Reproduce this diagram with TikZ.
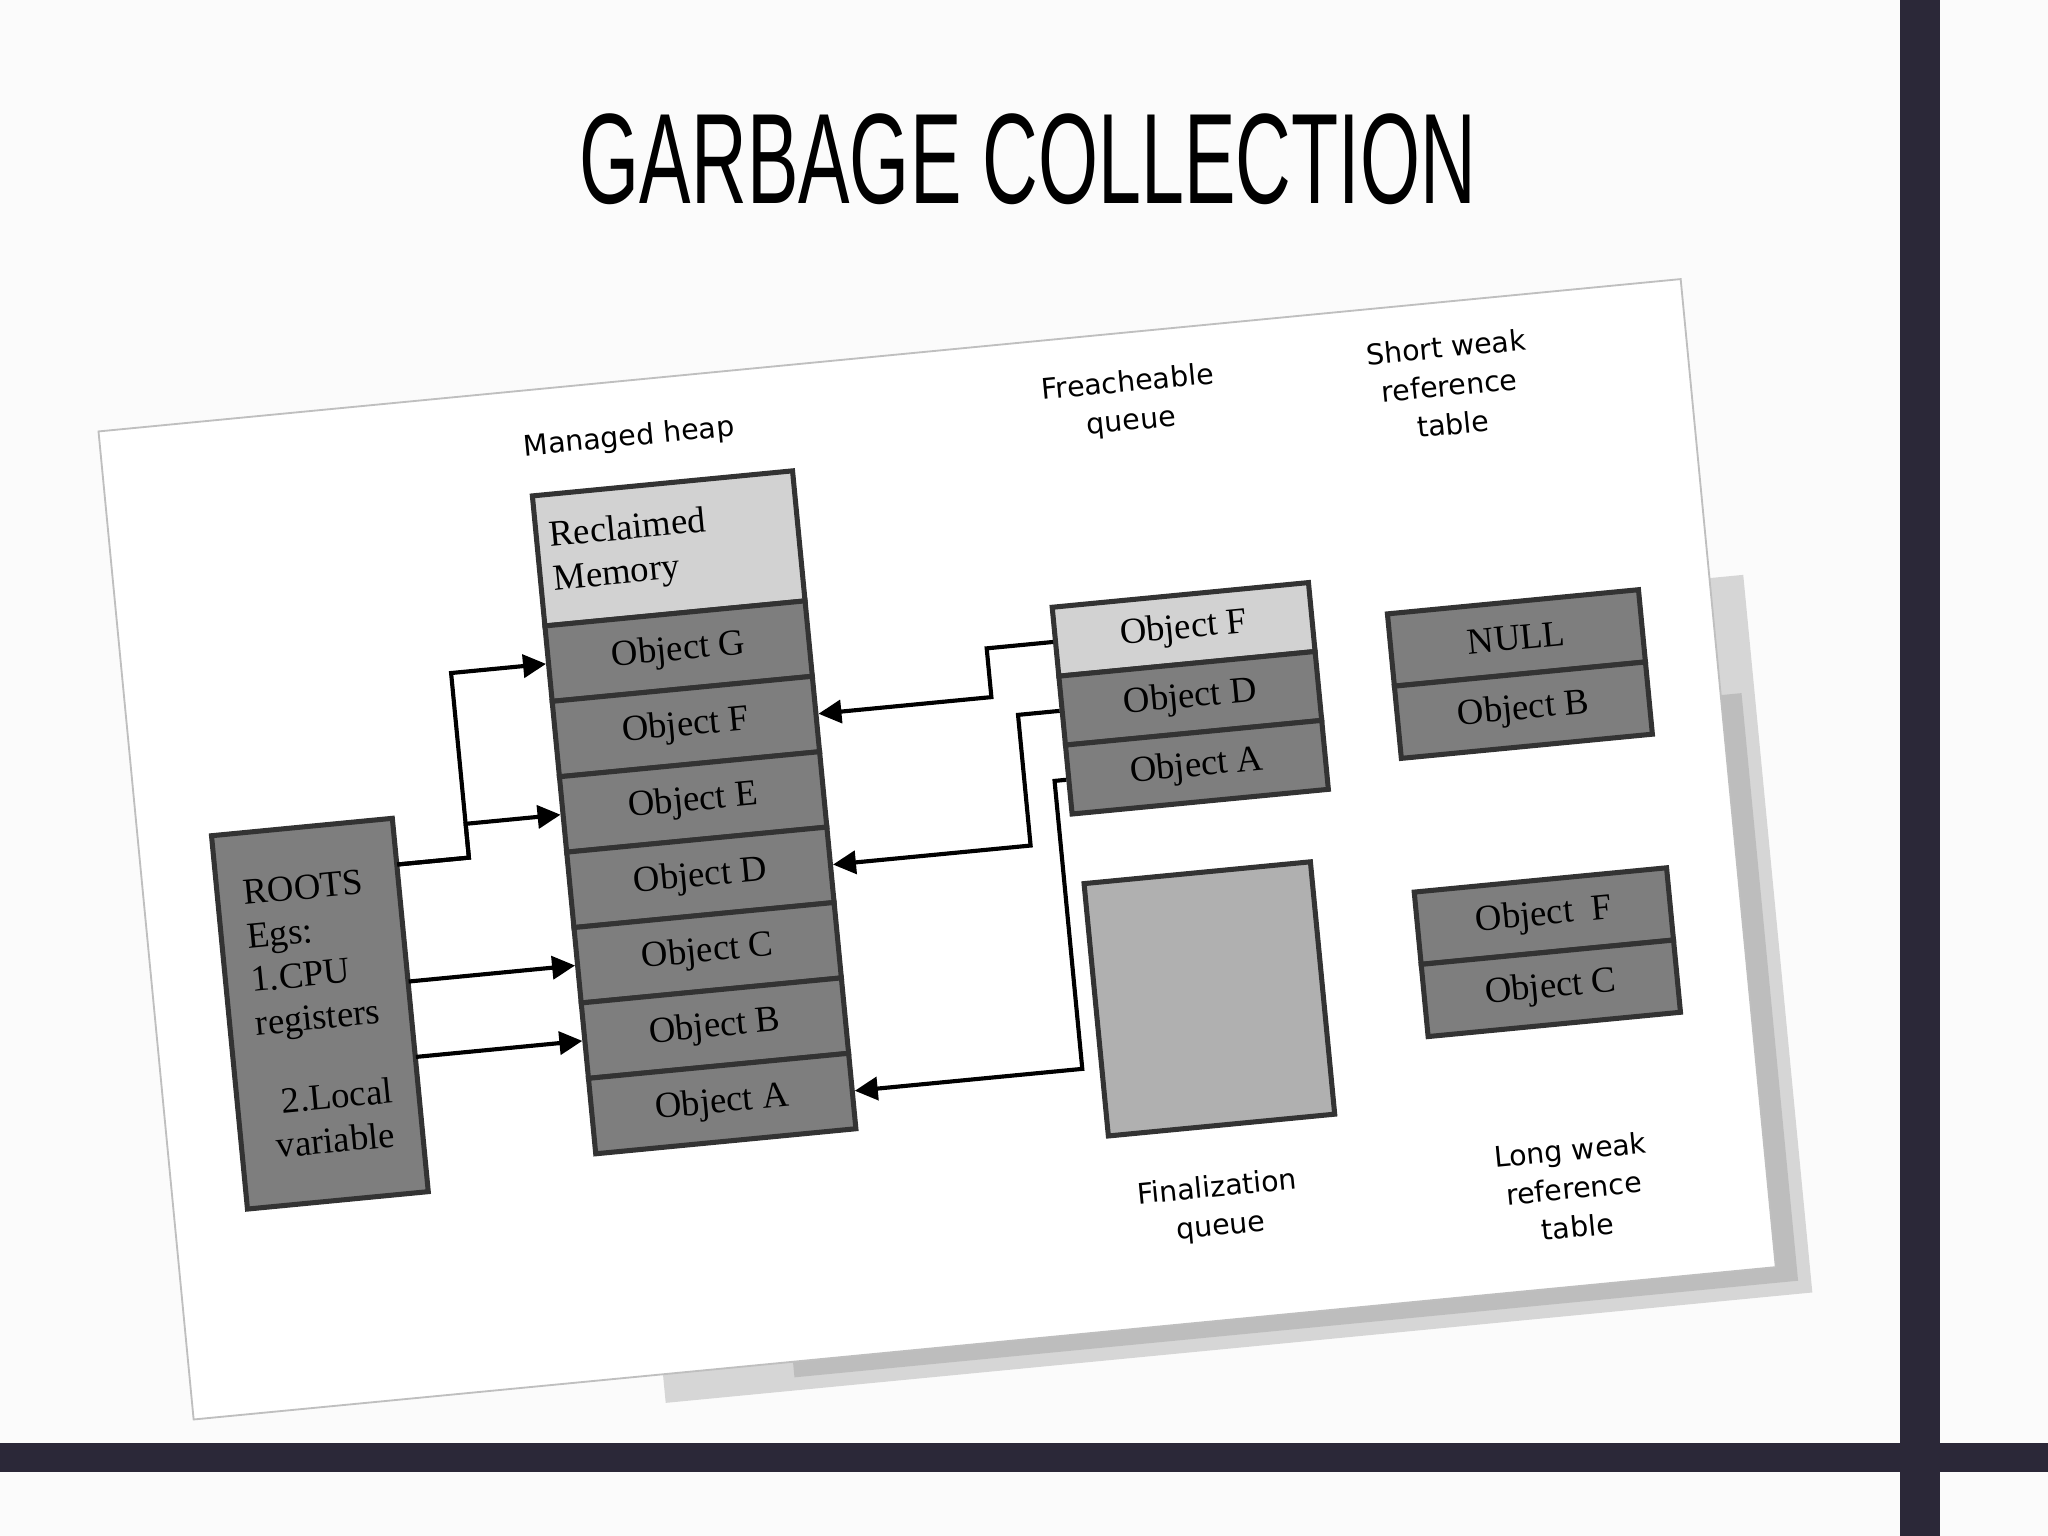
\documentclass[tikz,border=0pt]{standalone}
\usepackage{fontspec}
\setmainfont{Liberation Serif}
\newfontfamily\lblfont{DejaVu Sans}
\newfontfamily\ttlfont{Liberation Sans}
\usetikzlibrary{arrows.meta}
\definecolor{barcol}{HTML}{2B2838}
\definecolor{objcol}{HTML}{7E7E7E}
\definecolor{lightcol}{HTML}{D2D2D2}
\definecolor{fincol}{HTML}{B0B0B0}
\begin{document}
\begin{tikzpicture}[x=0.01cm, y=-0.01cm]
	\tikzset{obj/.style={draw=black!80, line width=1.1pt, fill=objcol, minimum width=2cm, minimum height=0.58cm, inner sep=0pt, font=\fontsize{8}{9.5}\selectfont, transform shape},
		lbl/.style={align=center, font=\lblfont\fontsize{6.2}{8.4}\selectfont, transform shape},
		arr/.style={-{Triangle[length=5pt, width=5pt]}, line width=0.9pt}};

	% page and bars
	\useasboundingbox (0,0) rectangle (1568,1176);
	\fill[white!97!gray] (0,0) rectangle (1568,1176);
	\fill[barcol] (0,1105) rectangle (1568,1127);
	\fill[barcol] (1455,0) rectangle (1485,1176);
	\node[font=\ttlfont\fontsize{28}{30}\selectfont, xscale=0.6] (title) at (787,122) {GARBAGE COLLECTION};

	\begin{scope}[shift={(720,650)}, rotate=5.5]
		% paper
		\fill[black!30, opacity=0.5] (-250,-150) rectangle (632,402);
		\fill[black!35, opacity=0.5] (-150,-60) rectangle (622,392);
		\fill[white] (-611,-380) rectangle (606,380);
		\draw[black!25] (-611,-380) rectangle (606,380);

		% managed heap
		\node[lbl] (heaplbl) at (-207,-336) {Managed heap};
		\node[obj, fill=lightcol, minimum height=1cm, align=left, text width=1.8cm] (recl) at (-185,-249) {Reclaimed\\Memory\\[2pt]};
		\foreach \n/\v in {G/-170, F/-112, E/-54, D/4, C/62, B/120, A/178}
			\node[obj] (h\n) at (-185,\v) {Object \n};

		% roots
		\node[obj, minimum width=1.39cm, minimum height=2.87cm, align=left] (roots) at (-485,80)
			{ROOTS\\Egs:\\ 1.CPU\\ registers\\[8pt] \ \ 2.Local\\ \ variable};
		\coordinate (r1) at (-415,-28);
		\draw[arr] (r1) -| (-360,-170) -- (hG.west);
		\draw[arr] (r1) -| (-360,-54) -- (hE.west);
		\draw[arr] (-415,62) -- (hC.west);
		\draw[arr] (-415,120) -- (hB.west);

		% freachable queue
		\node[lbl] (freachlbl) at (177,-326) {Freacheable\\queue};
		\node[obj, fill=lightcol, minimum width=1.97cm, minimum height=0.53cm] (fF) at (201.5,-149.5) {Object F};
		\node[obj, minimum width=1.97cm, minimum height=0.53cm] (fD) at (201.5,-96.5) {Object D};
		\node[obj, minimum width=1.97cm, minimum height=0.53cm] (fA) at (201.5,-43.5) {Object A};
		\draw[arr] (fF.west) -- (50,-149.5) -- (50,-112) -- (hF.east);
		\draw[arr] (fD.west) -- (69,-96.5) -- (69,4) -- (hD.east);
		\draw[arr] (fA.west) -- (92,-43.5) -- (92,178) -- (hA.east);

		% finalization queue
		\node[obj, fill=fincol, minimum width=1.74cm, minimum height=1.94cm] (fin) at (194,134) {};
		\node[lbl] (finlbl) at (186,294) {Finalization\\queue};

		% weak reference tables
		\node[lbl] (shortlbl) at (422,-316) {Short weak\\reference\\table};
		\node[obj, minimum width=1.93cm, minimum height=0.555cm] (sNull) at (454.5,-118.6) {NULL};
		\node[obj, minimum width=1.93cm, minimum height=0.555cm] (sB) at (454.5,-63) {Object B};
		\node[obj, minimum width=1.94cm, minimum height=0.555cm] (lF) at (455,95.4) {Object\ \ F};
		\node[obj, minimum width=1.94cm, minimum height=0.555cm] (lC) at (455,151) {Object C};
		\node[lbl] (longlbl) at (458,305) {Long weak\\reference\\table};
	\end{scope}
\end{tikzpicture}
\end{document}
